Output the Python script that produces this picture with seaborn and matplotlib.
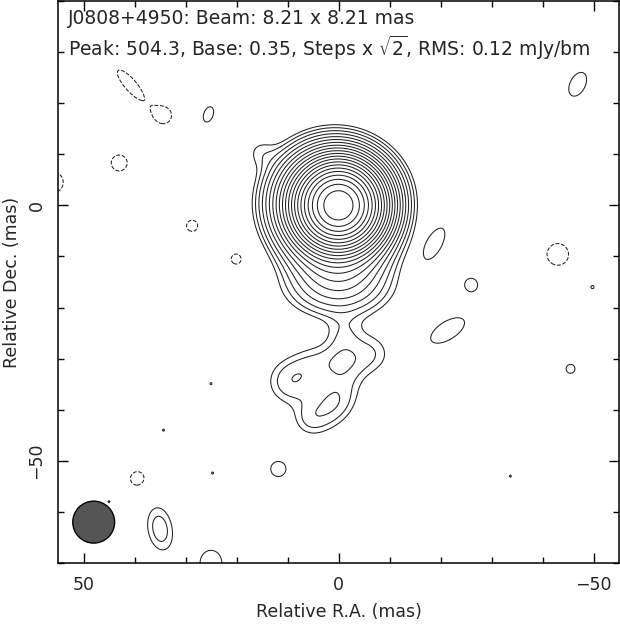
import numpy as np
import matplotlib
matplotlib.use("Agg")
import matplotlib.pyplot as plt
from matplotlib.patches import Circle
import seaborn as sns

# ---- map parameters ----
source_name = "J0808+4950"
beam_major = 8.21
beam_minor = 8.21
peak_flux = 504.3
base_level = 0.35
rms = 0.12
n_levels = 21

# ---- model components of the map: x (mas), y (mas), amplitude (mJy/bm), sigma_a, sigma_b (mas), PA (deg) ----
# core region
core_x = [0.0, 0.8, 0.0, 0.0, 15.5, -1.0]
core_y = [0.0, 0.5, -9.0, -17.0, 10.5, -25.0]
core_amp = [470.0, 25.0, 3.5, 0.55, 0.32, 0.30]
core_sa = [3.49, 5.5, 5.3, 7.5, 2.3, 2.5]
core_sb = [3.49, 5.2, 5.5, 3.5, 2.3, 2.5]
core_pa = [0, 0, 0, 0, 0, 0]

# southern jet component
south_x = [9.5, 1.0, -0.6, -6.5, 5.0, 6.0]
south_y = [-34.5, -38.8, -30.5, -29.0, -31.0, -42.0]
south_amp = [0.62, 0.70, 0.55, 0.45, 0.35, 0.30]
south_sa = [3.5, 4.3, 3.0, 3.2, 3.0, 2.5]
south_sb = [3.5, 3.0, 3.0, 3.2, 3.0, 2.5]
south_pa = [0, 131, 0, 0, 0, 0]

# isolated positive islands
island_x = [-19.0, -26.0, -21.4, -45.5, -49.8, -46.9, 25.5, 11.8, 35.0, 25.0,
            25.0, 34.3, 24.7, -33.7, 45.0]
island_y = [-7.4, -15.5, -24.5, -32.0, -16.0, 23.7, 17.8, -51.6, -63.3, -70.0,
            -34.9, -44.0, -52.4, -53.0, -58.0]
island_amp = [0.44, 0.42, 0.48, 0.40, 0.37, 0.47, 0.45, 0.46, 0.60, 0.45,
              0.36, 0.36, 0.36, 0.36, 0.36]
island_sa = [4.4, 2.0, 4.7, 1.7, 1.0, 3.25, 2.2, 2.0, 4.0, 3.0,
             1.0, 1.0, 1.0, 1.0, 1.0]
island_sb = [1.9, 2.0, 2.2, 1.7, 1.0, 1.95, 1.3, 2.0, 2.26, 3.5,
             1.0, 1.0, 1.0, 1.0, 1.0]
island_pa = [-63, 0, -32, 0, 0, -63, -70, 0, 80, 0,
             0, 0, 0, 0, 0]

# negative islands (dashed)
neg_x = [40.8, 34.2, 43.0, 56.0, 28.7, 20.0, -43.0, 39.4]
neg_y = [23.6, 17.7, 8.3, 4.5, -4.0, -10.5, -9.6, -53.5]
neg_amp = [-0.47, -0.43, -0.45, -0.50, -0.42, -0.42, -0.50, -0.45]
neg_sa = [4.8, 2.0, 2.2, 2.4, 1.8, 1.8, 2.5, 2.0]
neg_sb = [1.5, 2.0, 2.2, 2.4, 1.8, 1.8, 2.5, 2.0]
neg_pa = [49, 0, 0, 0, 0, 0, 0, 0]

# beam position in the corner
beam_x = 48.0
beam_y = -62.0

x_limits = (55, -55)
y_limits = (-70, 40)

# ---- build the map ----
xs = np.arange(62, -62, -0.25)
ys = np.arange(-78, 48, 0.25)
X, Y = np.meshgrid(xs, ys)
Z = np.zeros_like(X)
groups = [
    (core_x, core_y, core_amp, core_sa, core_sb, core_pa),
    (south_x, south_y, south_amp, south_sa, south_sb, south_pa),
    (island_x, island_y, island_amp, island_sa, island_sb, island_pa),
    (neg_x, neg_y, neg_amp, neg_sa, neg_sb, neg_pa),
]
for g in groups:
    for cx, cy, a, sa, sb, pa in zip(*g):
        t = np.deg2rad(pa)
        dx, dy = X - cx, Y - cy
        u = dx * np.cos(t) + dy * np.sin(t)
        v = -dx * np.sin(t) + dy * np.cos(t)
        Z += a * np.exp(-(u ** 2 / (2 * sa ** 2) + v ** 2 / (2 * sb ** 2)))

pos_levels = [base_level * np.sqrt(2) ** k for k in range(n_levels)]
neg_levels = [-base_level]

sns.set_theme(style="ticks")
plt.rcParams["font.family"] = ["DejaVu Sans"]

fig = plt.figure(figsize=(6.2, 6.3), dpi=100)
ax = fig.add_axes([58 / 620, 67 / 630, 561 / 620, 562 / 630])

ax.contour(X, Y, Z, levels=neg_levels, colors="#222222", linewidths=0.75,
           linestyles="dashed")
ax.contour(X, Y, Z, levels=pos_levels, colors="#222222", linewidths=0.75,
           linestyles="solid")

ax.add_patch(Circle((beam_x, beam_y), beam_major / 2, facecolor="#555555",
                    edgecolor="black", linewidth=1.0, zorder=3))

ax.set_xlim(*x_limits)
ax.set_ylim(*y_limits)
ax.set_aspect("auto")

ax.set_xticks([50, 0, -50])
ax.set_yticks([-50, 0])
ax.set_xticks(np.arange(50, -60, -10), minor=True)
ax.set_yticks(np.arange(-70, 50, 10), minor=True)
ax.set_xticklabels(["50", "0", "\u221250"])
ax.set_yticklabels(["\u221250", "0"])
ax.tick_params(which="major", direction="in", length=7, width=1.0,
               top=True, right=True, labelsize=12.5, color="black", pad=9)
ax.tick_params(which="minor", direction="in", length=4, width=1.0,
               top=True, right=True, color="black")
ax.tick_params(axis="y", which="major", labelrotation=90, pad=9)
for lbl in ax.get_yticklabels():
    lbl.set_va("center")
for s in ax.spines.values():
    s.set_linewidth(1.1)
    s.set_color("black")

ax.set_xlabel("Relative R.A. (mas)", fontsize=12.5)
ax.set_ylabel("Relative Dec. (mas)", fontsize=12.5)
ax.xaxis.set_label_coords(0.5, -(612 - 563) / 562)
ax.yaxis.set_label_coords((12 - 58) / 561, 0.5)
ax.xaxis.label.set_va("center")
ax.yaxis.label.set_va("center")

ax.text(0.018, 0.968, f"{source_name}: Beam: {beam_major:.2f} x {beam_minor:.2f} mas",
        transform=ax.transAxes, fontsize=13.5, va="center", ha="left")
ax.text(0.018, 0.916,
        f"Peak: {peak_flux:.1f}, Base: {base_level:.2f}, Steps x $\\sqrt{{2}}$, RMS: {rms:.2f} mJy/bm",
        transform=ax.transAxes, fontsize=13.5, va="center", ha="left")

fig.savefig("out.png", dpi=100, facecolor="white")
